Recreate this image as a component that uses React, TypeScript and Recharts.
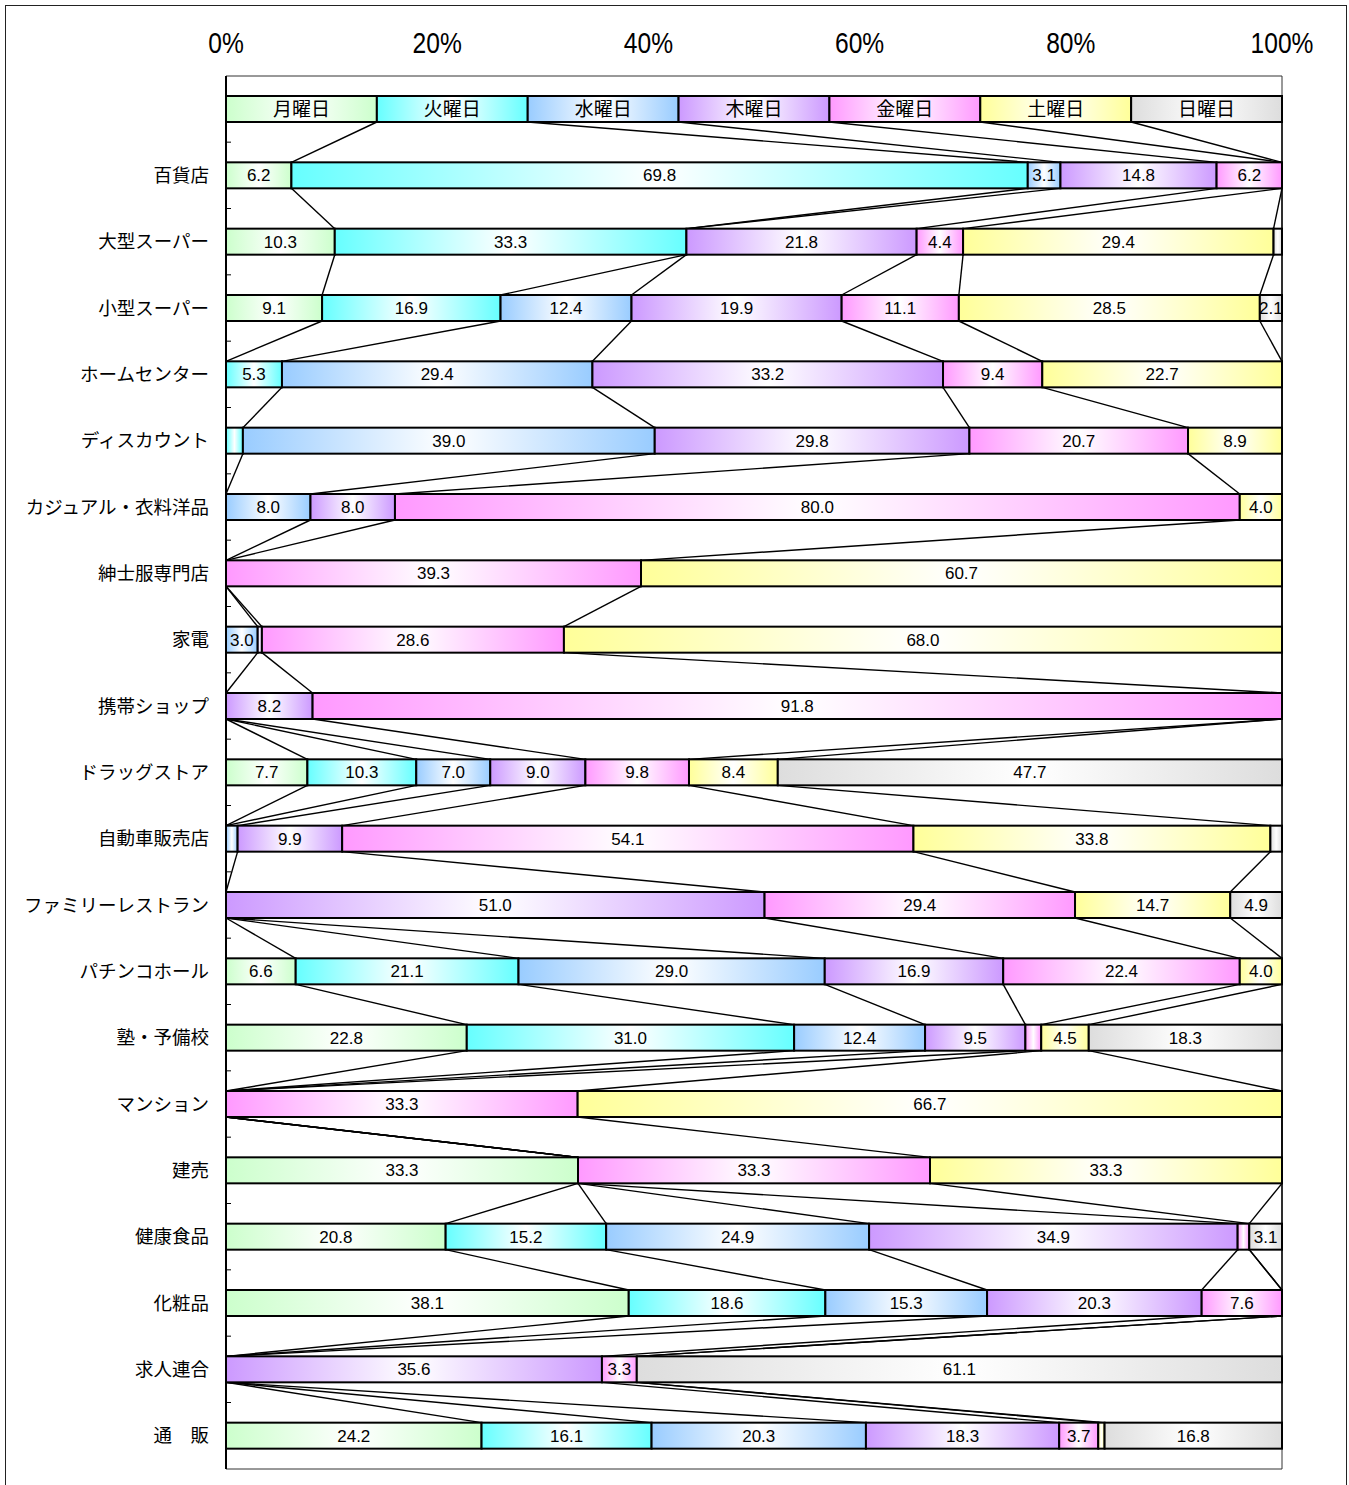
import React from 'react';
import { BarChart, Bar, XAxis, YAxis, ReferenceArea } from 'recharts';

const days = ['月曜日', '火曜日', '水曜日', '木曜日', '金曜日', '土曜日', '日曜日'];

const categories = [
  '百貨店', '大型スーパー', '小型スーパー', 'ホームセンター', 'ディスカウント',
  'カジュアル・衣料洋品', '紳士服専門店', '家電', '携帯ショップ', 'ドラッグストア',
  '自動車販売店', 'ファミリーレストラン', 'パチンコホール', '塾・予備校', 'マンション',
  '建売', '健康食品', '化粧品', '求人連合', '通　販',
];

// share of each day (%) per category
const mon = [6.2, 10.3, 9.1, 0, 0, 0, 0, 0, 0, 7.7, 0, 0, 6.6, 22.8, 0, 33.3, 20.8, 38.1, 0, 24.2];
const tue = [69.8, 33.3, 16.9, 5.3, 1.6, 0, 0, 0, 0, 10.3, 0, 0, 21.1, 31.0, 0, 0, 15.2, 18.6, 0, 16.1];
const wed = [3.1, 0, 12.4, 29.4, 39.0, 8.0, 0, 3.0, 0, 7.0, 1.1, 0, 29.0, 12.4, 0, 0, 24.9, 15.3, 0, 20.3];
const thu = [14.8, 21.8, 19.9, 33.2, 29.8, 8.0, 0, 0.4, 8.2, 9.0, 9.9, 51.0, 16.9, 9.5, 0, 0, 34.9, 20.3, 35.6, 18.3];
const fri = [6.2, 4.4, 11.1, 9.4, 20.7, 80.0, 39.3, 28.6, 91.8, 9.8, 54.1, 29.4, 22.4, 1.5, 33.3, 33.3, 1.1, 7.6, 3.3, 3.7];
const sat = [0, 29.4, 28.5, 22.7, 8.9, 4.0, 60.7, 68.0, 0, 8.4, 33.8, 14.7, 4.0, 4.5, 66.7, 33.3, 0, 0, 0, 0.6];
const sun = [0, 0.8, 2.1, 0, 0, 0, 0, 0, 0, 47.7, 1.1, 4.9, 0, 18.3, 0, 0, 3.1, 0, 61.1, 16.8];

// the key row at the top: every day gets the same share
const legendShare = [1, 1, 1, 1, 1, 1, 1];

const pctTicks = [0, 0.2, 0.4, 0.6, 0.8, 1];

const series = [mon, tue, wed, thu, fri, sat, sun];
const COLORS = ['#ccffcc', '#66ffff', '#99ccff', '#cc99ff', '#ff99ff', '#ffff99', '#dddddd'];

const chartData = [
  { name: '', ...Object.fromEntries(days.map((d, s) => [d, legendShare[s]])) },
  ...categories.map((c, i) => ({
    name: c,
    ...Object.fromEntries(days.map((d, s) => [d, series[s][i]])),
  })),
];

const LABEL_FONT = '"Liberation Sans", Arial, sans-serif';
const JP_FONT = '"Noto Sans CJK JP", "Noto Sans", sans-serif';

// geometry of already drawn segments, used for the series lines
const boxes: Record<string, { x: number; y: number; w: number; h: number }> = {};

function makeShape(s: number) {
  return (props: any) => {
    const { x, y, width, height, index, payload } = props;
    boxes[`${s}-${index}`] = { x, y, w: width, h: height };
    const prev = index > 0 ? boxes[`${s}-${index - 1}`] : undefined;
    const value = payload[days[s]] as number;
    let label = '';
    if (index === 0) label = days[s];
    else if (value >= 2) label = value.toFixed(1);
    return (
      <g>
        {prev && (
          <line
            x1={prev.x + prev.w} y1={prev.y + prev.h} x2={x + width} y2={y}
            stroke="#000" strokeWidth={1.4}
          />
        )}
        {prev && s === 0 && (
          <line
            x1={x} x2={x + 5}
            y1={(prev.y + prev.h + y) / 2} y2={(prev.y + prev.h + y) / 2}
            stroke="#000" strokeWidth={1}
          />
        )}
        {width > 0.01 && (
          <rect x={x} y={y} width={width} height={height} fill={`url(#grad${s})`} stroke="#000" strokeWidth={2} />
        )}
        {width > 0.01 && label && (
          <text
            x={x + width / 2} y={y + height / 2} dy="0.36em" textAnchor="middle"
            fontSize={index === 0 ? 19 : 17}
            fontFamily={index === 0 ? JP_FONT : LABEL_FONT}
            fill="#000"
          >
            {label}
          </text>
        )}
      </g>
    );
  };
}

// narrow percent labels on top
function PctTick(props: any) {
  const { x, y, payload } = props;
  return (
    <g transform={`translate(${x},${y})`}>
      <text transform="scale(0.82,1)" textAnchor="middle" fontSize={30} fontFamily={LABEL_FONT} fill="#000">
        {`${Math.round(payload.value * 100)}%`}
      </text>
    </g>
  );
}

export default function App() {
  return (
    <div style={{ position: 'absolute', left: 0, top: 0, width: 1349, height: 1485, background: '#fff' }}>
      <svg width={0} height={0} style={{ position: 'absolute' }}>
        <defs>
          {COLORS.map((c, s) => (
            <linearGradient key={s} id={`grad${s}`} x1="0" y1="0" x2="1" y2="0">
              <stop offset="0%" stopColor={c} />
              <stop offset="50%" stopColor="#ffffff" />
              <stop offset="100%" stopColor={c} />
            </linearGradient>
          ))}
        </defs>
      </svg>
      <div
        style={{
          position: 'absolute', left: 5, top: 5, width: 1342, height: 1480, boxSizing: 'border-box',
          borderTop: '1px solid #222', borderLeft: '1px solid #222', borderRight: '1px solid #222',
        }}
      />
      <div style={{ position: 'absolute', left: 0, top: 0 }}>
        <BarChart
          width={1349}
          height={1485}
          data={chartData}
          layout="vertical"
          stackOffset="expand"
          margin={{ top: 16, right: 67, left: 0, bottom: 16 }}
        >
          <XAxis
            type="number"
            orientation="top"
            domain={[0, 1]}
            ticks={pctTicks}
            height={60}
            axisLine={false}
            tickLine={false}
            tickSize={0}
            tickMargin={23}
            tick={<PctTick />}
          />
          <YAxis
            type="category"
            dataKey="name"
            width={226}
            interval={0}
            axisLine={{ stroke: '#000', strokeWidth: 2 }}
            tickLine={false}
            tickSize={0}
            tickMargin={17}
            tick={{ fill: '#000', fontSize: 18.5, fontFamily: JP_FONT }}
          />
          <ReferenceArea x1={0} x2={1} fill="none" stroke="#333" strokeWidth={1} />
          {days.map((d, s) => (
            <Bar
              key={d}
              dataKey={d}
              stackId="week"
              barSize={26}
              isAnimationActive={false}
              shape={makeShape(s)}
            />
          ))}
        </BarChart>
      </div>
    </div>
  );
}
